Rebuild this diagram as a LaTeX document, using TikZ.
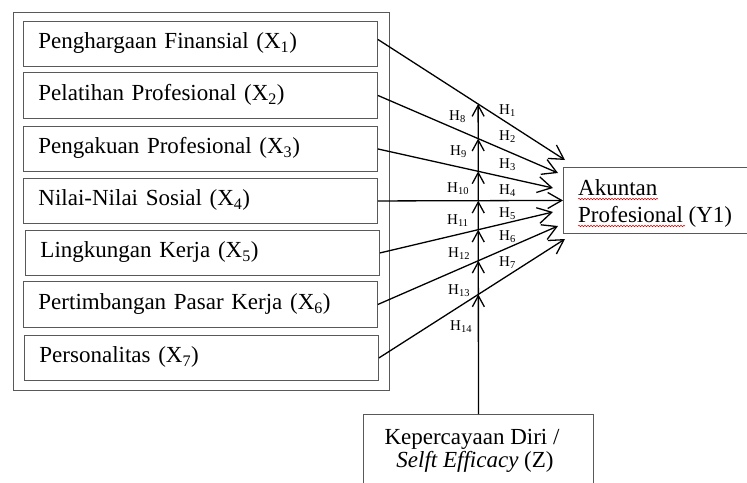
\documentclass[tikz,border=0pt]{standalone}
\usepackage{fontspec}
\setmainfont{Liberation Serif}
\usetikzlibrary{arrows.meta,decorations.pathmorphing}
\definecolor{boxgray}{gray}{0.35}
\newcommand\hsubx[1]{\raisebox{-2.5pt}{\fontsize{10.5}{10.5}\selectfont #1}}
\tikzset{
  frame/.style={draw=boxgray, line width=0.9pt, inner sep=0pt},
  xbox/.style={draw=boxgray, line width=0.9pt, anchor=north west, text width=324pt,
    inner xsep=15pt, inner ysep=0pt, align=left, text height=15pt, text depth=5pt,
    font=\fontsize{23}{27}\selectfont},
  bigtext/.style={inner sep=0pt, font=\fontsize{23}{27}\selectfont},
  hlab/.style={inner sep=0pt, anchor=base west, font=\fontsize{15}{15}\selectfont},
  harrow/.style={line width=1.3pt, -{Straight Barb[length=14pt,width=16pt,line width=1.3pt]}},
  varrow/.style={line width=1.3pt, -{Straight Barb[length=11pt,width=12pt,line width=1.3pt]}},
  squig/.style={red!85!black, line width=0.5pt, decorate,
    decoration={snake, amplitude=0.7pt, segment length=3pt}}
}
\begin{document}
\begin{tikzpicture}[x=1pt,y=-1pt]
\useasboundingbox (0,0) rectangle (747,482);
\clip (0,0) rectangle (747,482);
\fill[white] (0,0) rectangle (747,482);

% outer frame
\node[frame, anchor=north west, minimum width=376pt, minimum height=378pt] (grp) at (13,12) {};

% independent variable boxes
\node[xbox, minimum height=45pt] (x1) at (23,21)  {Penghargaan Finansial (X\textsubscript{1})};
\node[xbox, minimum height=46pt] (x2) at (23,72)  {Pelatihan Profesional (X\textsubscript{2})};
\node[xbox, minimum height=45pt] (x3) at (23,126) {Pengakuan Profesional (X\textsubscript{3})};
\node[xbox, minimum height=45pt] (x4) at (23,178) {Nilai-Nilai Sosial (X\textsubscript{4})};
\node[xbox, minimum height=45pt] (x5) at (25,230) {Lingkungan Kerja (X\textsubscript{5})};
\node[xbox, minimum height=46pt] (x6) at (23,281) {Pertimbangan Pasar Kerja (X\textsubscript{6})};
\node[xbox, minimum height=45pt] (x7) at (24,335) {Personalitas (X\textsubscript{7})};

% dependent variable box
\node[frame, anchor=north west, minimum width=200pt, minimum height=66pt] (y1) at (563,167) {};
\node[bigtext, anchor=base west] (y1a) at (578,195) {Akuntan};
\node[bigtext, anchor=base west] (y1b) at (578,222) {Profesional (Y1)};
\draw[squig] (y1a.base west) ++(0,4) -- ++(80,0);
\draw[squig] (y1b.base west) ++(0,4) -- ++(107,0);

% moderator box
\node[frame, anchor=north west, minimum width=230pt, minimum height=100pt] (z) at (363,414) {};
\node[bigtext, anchor=base] (za) at (472,444) {Kepercayaan Diri /};
\node[bigtext, anchor=base] (zb) at (475,467) {\textit{Selft Efficacy} (Z)};

% arrow start and end points
\coordinate (s1) at ([yshift=4.5pt]x1.east);
\coordinate (t1) at (565,160);
\coordinate (t2) at (558,173);
\coordinate (t3) at (553,188);
\coordinate (t4) at (y1.west);
\coordinate (t5) at (553,212);
\coordinate (t6) at (558,226);
\coordinate (t7) at (565,239);
\coordinate (vtop) at (478,0);

\draw[harrow] (s1) -- (t1);
\draw[harrow] (x2.east) -- (t2);
\draw[harrow] (x3.east) -- (t3);
\draw[harrow] (x4.east) -- (t4);
\draw[harrow] (x5.east) -- (t5);
\draw[harrow] (x6.east) -- (t6);
\draw[harrow] (x7.east) -- (t7);

% intersections of the moderator line with the paths
\coordinate (i1) at (intersection of z.north--vtop and s1--t1);
\coordinate (i2) at (intersection of z.north--vtop and x2.east--t2);
\coordinate (i3) at (intersection of z.north--vtop and x3.east--t3);
\coordinate (i4) at (intersection of z.north--vtop and x4.east--t4);
\coordinate (i5) at (intersection of z.north--vtop and x5.east--t5);
\coordinate (i6) at (intersection of z.north--vtop and x6.east--t6);
\coordinate (i7) at (intersection of z.north--vtop and x7.east--t7);

\draw[varrow] (z.north) -- (i7);
\draw[varrow] (i7) -- (i6);
\draw[varrow] (i6) -- (i5);
\draw[varrow] (i5) -- (i4);
\draw[varrow] (i4) -- (i3);
\draw[varrow] (i3) -- (i2);
\draw[varrow] (i2) -- (i1);

% hypothesis labels
\node[hlab] (h1) at (499,114) {H\hsubx{1}};
\node[hlab] (h2) at (499,140) {H\hsubx{2}};
\node[hlab] (h3) at (499,168) {H\hsubx{3}};
\node[hlab] (h4) at (499,194) {H\hsubx{4}};
\node[hlab] (h5) at (499,217) {H\hsubx{5}};
\node[hlab] (h6) at (499,240) {H\hsubx{6}};
\node[hlab] (h7) at (499,266) {H\hsubx{7}};
\node[hlab] (h8) at (449,120) {H\hsubx{8}};
\node[hlab] (h9) at (450,155) {H\hsubx{9}};
\node[hlab] (h10) at (447,192) {H\hsubx{10}};
\node[hlab] (h11) at (447,224) {H\hsubx{11}};
\node[hlab] (h12) at (448,257) {H\hsubx{12}};
\node[hlab] (h13) at (448,294) {H\hsubx{13}};
\node[hlab] (h14) at (450,330) {H\hsubx{14}};
\end{tikzpicture}
\end{document}
